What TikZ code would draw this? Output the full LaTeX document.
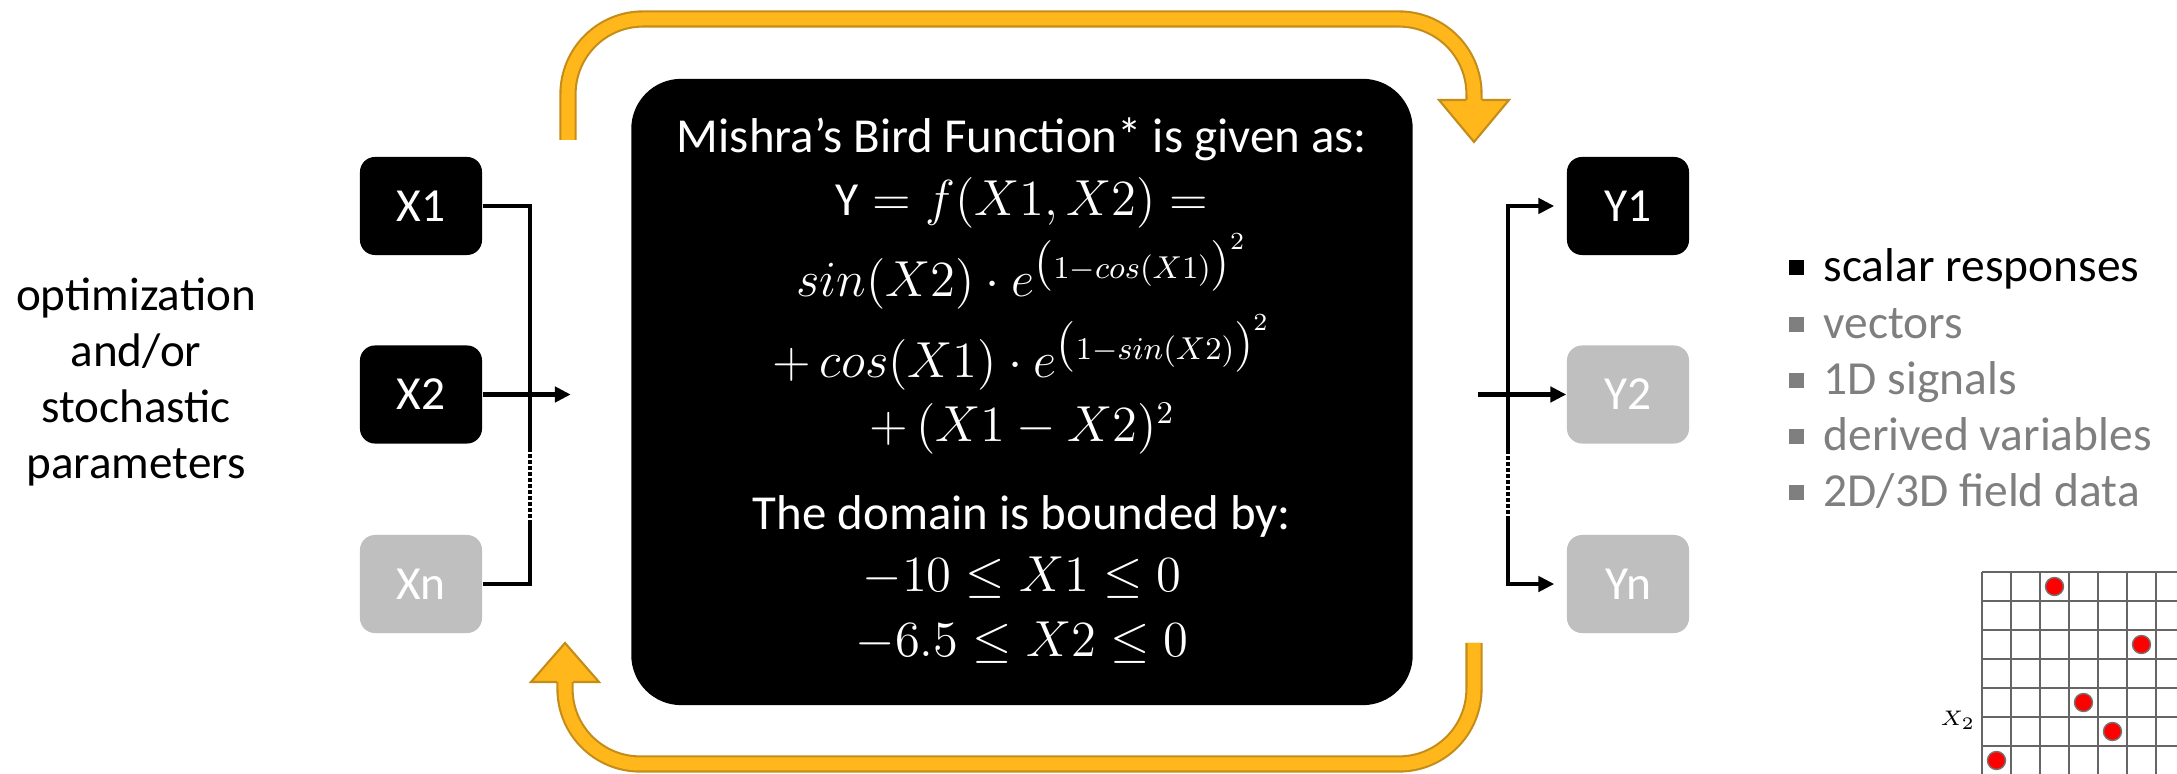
\documentclass[tikz,border=0pt]{standalone}
\usepackage{fontspec}
\setmainfont{Carlito}
\usetikzlibrary{arrows.meta,positioning,calc}
\definecolor{loopfill}{RGB}{255,183,28}
\definecolor{loopedge}{RGB}{196,140,24}
\definecolor{offgray}{RGB}{191,191,191}
\definecolor{listgray}{RGB}{127,127,127}

\begin{document}
\begin{tikzpicture}[x=0.01cm, y=-0.01cm,
        every node/.style={font=\fontsize{13.5}{16}\selectfont},
        var/.style={rounded corners=0.15cm, minimum width=1.22cm, minimum height=0.98cm, fill=black, text=white, inner sep=0pt},
        offvar/.style={var, fill=offgray},
        eqline/.style={text=white, anchor=base, inner sep=0pt},
        conn/.style={line width=1.2pt},
        arr/.style={conn, -{Triangle[length=4.5pt, width=4.3pt]}},
        gapline/.style={conn, dash pattern=on 1.1pt off 0.6pt},
        loopline/.style={draw=loopfill, line width=3.7pt, rounded corners=0.75cm, preaction={draw=loopedge, line width=4.9pt}},
        loopoutline/.style={draw=loopedge, line width=0.6pt},
        item/.style={anchor=base west, inner sep=0pt},
        bullet/.style={minimum size=0.15cm, inner sep=0pt},
        cell/.style={draw=black!60, line width=0.45pt},
        reddot/.style={circle, fill=red, draw=black!55, line width=0.4pt, minimum size=0.18cm, inner sep=0pt}]
        \useasboundingbox (0,0) rectangle (2177,774);

        % inputs
        \node[var] (x1) at (421,206) {X1};
        \node[var, below=0.89cm of x1] (x2) {X2};
        \node[offvar, below=0.9cm of x2] (xn) {Xn};
        \node[align=center, font=\fontsize{13.4}{15.9}\selectfont] (params) at (136,382) {optimization\\and/or\\stochastic\\parameters};

        % outputs
        \node[var] (y1) at (1628,206) {Y1};
        \node[offvar, below=0.89cm of y1] (y2) {Y2};
        \node[offvar, below=0.9cm of y2] (yn) {Yn};

        % the function
        \node[fill=black, rounded corners=0.5cm, minimum width=7.81cm, minimum height=6.26cm] (bird) at (1022,392) {};
        \node[eqline, font=\fontsize{13.9}{16}\selectfont] (title) at (1022,153) {Mishra’s Bird Function* is given as:};
        \node[eqline] (feq) at (1022,216) {$\mathrm{Y}=f(X1,X2)=$};
        \node[eqline] (fa) at (1022,297) {$sin(X2)\cdot e^{\big(1-cos(X1)\big)^2}$};
        \node[eqline] (fb) at (1022,378) {$+\,cos(X1)\cdot e^{\big(1-sin(X2)\big)^2}$};
        \node[eqline] (fc) at (1022,442) {$+\,(X1-X2)^2$};
        \node[eqline, font=\fontsize{13.9}{16}\selectfont] (dom) at (1022,530) {The domain is bounded by:};
        \node[eqline] (dx1) at (1022,592) {$-10\leq X1\leq 0$};
        \node[eqline] (dx2) at (1022,657) {$-6.5\leq X2\leq 0$};

        % wiring in
        \coordinate (jl1) at (530,448);
        \coordinate (jl2) at (530,520);
        \coordinate (feed) at ($(x2.east)+(88,0)$);
        \draw[conn] (x1.east) -| (jl1);
        \draw[gapline] (jl1) -- (jl2);
        \draw[conn] (jl2) |- (xn.east);
        \draw[arr] (x2.east) -- (feed);

        % wiring out
        \coordinate (jr1) at (1508,450);
        \coordinate (jr2) at (1508,518);
        \coordinate (emit) at ($(y2.west)+(-88,0)$);
        \draw[arr, shorten >=0.12cm] (jr1) |- (y1.west);
        \draw[gapline] (jr1) -- (jr2);
        \draw[arr, shorten >=0.12cm] (jr2) |- (yn.west);
        \draw[arr] (emit) -- (y2.west);

        % loop over the top
        \coordinate (ts) at (568,140);
        \coordinate (tb) at (1474,100);
        \coordinate (tt) at (1474,142);
        \draw[loopline] (ts) -- (568,19) -- (1474,19) -- (tb);
        \fill[loopfill] (1439,100) -- (1509,100) -- (tt) -- cycle;
        \draw[loopoutline] (1466,100) -- (1439,100) -- (tt) -- (1509,100) -- (1482,100);

        % loop underneath
        \coordinate (bs) at (1474,643);
        \coordinate (bb) at (565,682);
        \coordinate (bt) at (565,643);
        \draw[loopline] (bs) -- (1474,764) -- (565,764) -- (bb);
        \fill[loopfill] (531,682) -- (599,682) -- (bt) -- cycle;
        \draw[loopoutline] (557,682) -- (531,682) -- (bt) -- (599,682) -- (573,682);

        % response types
        \foreach \t/\c [count=\i from 0] in {scalar responses/black, vectors/listgray, 1D signals/listgray, derived variables/listgray, 2D\slash 3D field data/listgray} {
          \node[bullet, fill=\c] (b\i) at (1796,268+56.25*\i) {};
          \node[item, text=\c] (r\i) at (1823,282+56.25*\i) {\t};
        }

        % sample grid
        \foreach \k in {0,...,6} {
          \draw[cell] (1982+29*\k,572) -- (1982+29*\k,774);
          \draw[cell] (1982,572+29*\k) -- (2177,572+29*\k);
        }
        \foreach \c/\r [count=\i] in {2/0,5/2,3/4,4/5,0/6}
          \node[reddot] (pt\i) at (1996.5+29*\c,586.5+29*\r) {};
        \node[font=\fontsize{6}{7}\selectfont] (xaxis) at (1958,720) {$X_2$};
      \end{tikzpicture}
\end{document}
